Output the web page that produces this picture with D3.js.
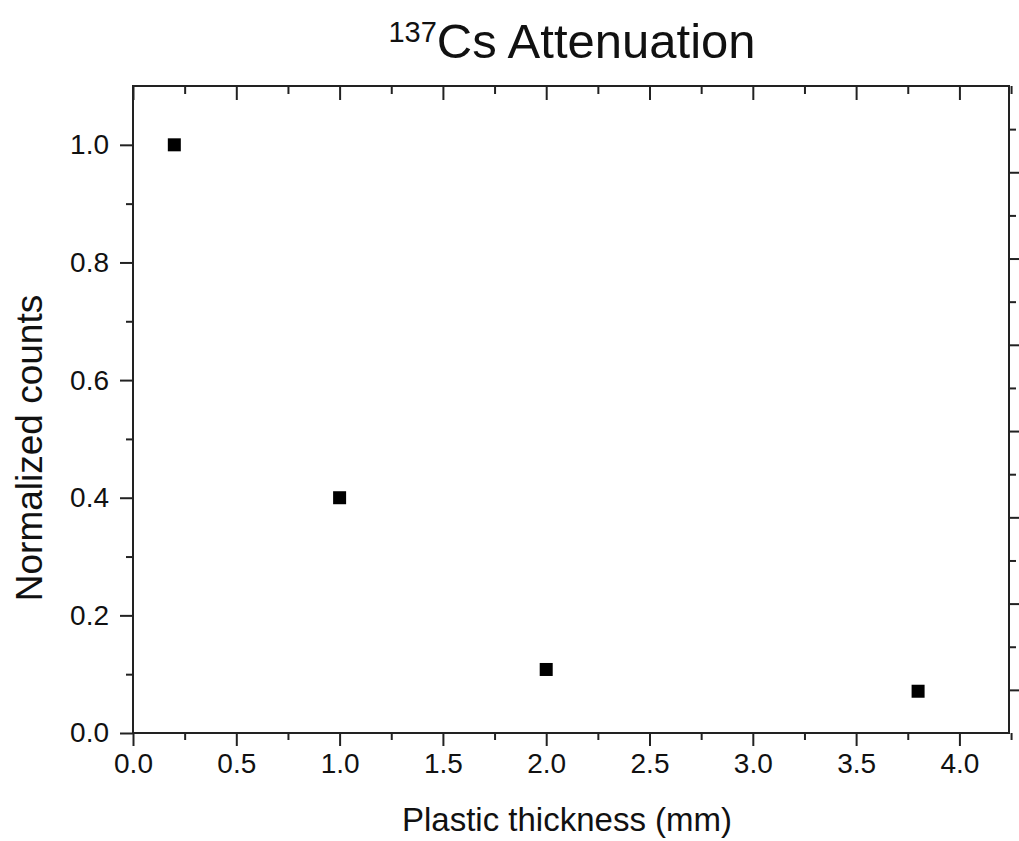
<!DOCTYPE html>
<meta charset="utf-8">
<head>
<title>137Cs Attenuation</title>
<style>
body { margin: 0; background: #fff; }
text { font-family: "Liberation Sans", Arial, sans-serif; fill: #111; }
.frame { fill: none; stroke: #222; stroke-width: 2px; }
.tick line { stroke: #222; stroke-width: 2px; }
.domain { display: none; }
</style>
</head>
<body>
<script src="https://cdn.jsdelivr.net/npm/d3@7"></script>
<div id="chart"></div>
<script>

// data
var thickness = [0.2, 1.0, 2.0, 3.8];
var counts = [1.0, 0.40, 0.108, 0.071];

var xMajor = [0, 0.5, 1, 1.5, 2, 2.5, 3, 3.5, 4];
var xMinor = [0.25, 0.75, 1.25, 1.75, 2.25, 2.75, 3.25, 3.75, 4.25];
var yMajor = [0, 0.2, 0.4, 0.6, 0.8, 1.0];
var yMinor = [0.1, 0.3, 0.5, 0.7, 0.9];
// right axis has its own (unlabelled) scale
var rMajor = [0, 1, 2, 3, 4, 5, 6];
var rMinor = [0.5, 1.5, 2.5, 3.5, 4.5, 5.5, 6.5];

var width = 1019,
    height = 841;
var margin = {top: 86, right: 10, bottom: 108, left: 133};

var svg = d3.select('#chart')
    .append('svg')
    .attr('width', width)
    .attr('height', height);

var x = d3.scaleLinear()
    .domain([0, 4.24])
    .range([margin.left, width - margin.right]);

var y = d3.scaleLinear()
    .domain([0, 1.1])
    .range([height - margin.bottom, margin.top]);

var y2 = d3.scaleLinear()
    .domain([-0.5, 7.0])
    .range([height - margin.bottom, margin.top]);

var fmt = d3.format('.1f');
var bottomY = height - margin.bottom;

// bottom axis
svg.append('g')
    .attr('transform', 'translate(0,' + bottomY + ')')
    .call(d3.axisBottom(x).tickValues(xMajor).tickSize(13).tickPadding(7).tickFormat(fmt))
    .call(g => g.selectAll('text').style('font-size', '28px'));
svg.append('g')
    .attr('transform', 'translate(0,' + bottomY + ')')
    .call(d3.axisBottom(x).tickValues(xMinor).tickSize(7).tickFormat(''));

// top axis, ticks pointing in
svg.append('g')
    .attr('transform', 'translate(0,' + margin.top + ')')
    .call(d3.axisBottom(x).tickValues(xMajor).tickSize(14).tickFormat(''));
svg.append('g')
    .attr('transform', 'translate(0,' + margin.top + ')')
    .call(d3.axisBottom(x).tickValues(xMinor).tickSize(8).tickFormat(''));

// left axis
svg.append('g')
    .attr('transform', 'translate(' + margin.left + ',0)')
    .call(d3.axisLeft(y).tickValues(yMajor).tickSize(13).tickPadding(11).tickFormat(fmt))
    .call(g => g.selectAll('text').style('font-size', '28px'));
svg.append('g')
    .attr('transform', 'translate(' + margin.left + ',0)')
    .call(d3.axisLeft(y).tickValues(yMinor).tickSize(7).tickFormat(''));

// right axis, ticks pointing out
svg.append('g')
    .attr('transform', 'translate(' + (width - margin.right) + ',0)')
    .call(d3.axisRight(y2).tickValues(rMajor).tickSize(10).tickFormat(''));
svg.append('g')
    .attr('transform', 'translate(' + (width - margin.right) + ',0)')
    .call(d3.axisRight(y2).tickValues(rMinor).tickSize(7).tickFormat(''));

svg.append('rect')
    .attr('class', 'frame')
    .attr('x', margin.left)
    .attr('y', margin.top)
    .attr('width', width - margin.right - margin.left)
    .attr('height', bottomY - margin.top);

// markers
svg.selectAll('.pt')
    .data(thickness)
    .enter()
    .append('rect')
    .attr('class', 'pt')
    .attr('x', (d, i) => x(d) - 6.5)
    .attr('y', (d, i) => y(counts[i]) - 6.5)
    .attr('width', 13)
    .attr('height', 13)
    .attr('fill', '#000');

// title
var title = svg.append('text')
    .attr('x', 572)
    .attr('y', 58)
    .attr('text-anchor', 'middle')
    .style('font-size', '49px');
title.append('tspan')
    .attr('dy', '-16')
    .style('font-size', '29px')
    .text('137');
title.append('tspan')
    .attr('dy', '16')
    .text('Cs Attenuation');

// axis titles
svg.append('text')
    .attr('x', 567)
    .attr('y', 831)
    .attr('text-anchor', 'middle')
    .style('font-size', '33px')
    .text('Plastic thickness (mm)');

svg.append('text')
    .attr('transform', 'translate(42,448) rotate(-90)')
    .attr('text-anchor', 'middle')
    .style('font-size', '37px')
    .text('Normalized counts');

</script>
</body>
